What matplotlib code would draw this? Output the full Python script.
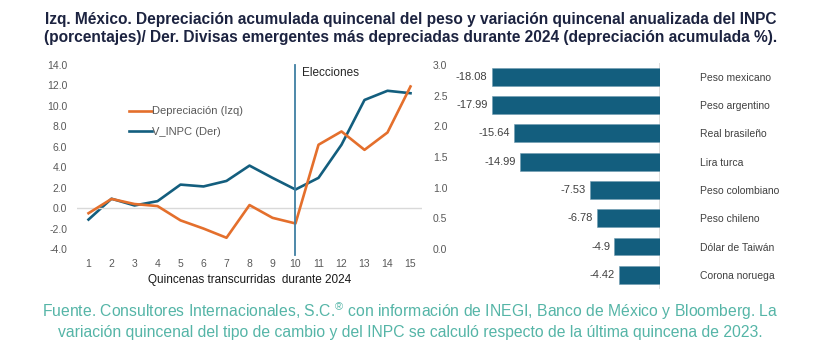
import matplotlib.pyplot as plt

# datos - panel izquierdo
quincenas = list(range(1, 16))
depreciacion = [-0.5, 0.9, 0.4, 0.2, -1.2, -2.0, -2.9, 0.3, -0.95, -1.5, 6.2, 7.5, 5.7, 7.4, 11.9]
v_inpc = [0.48, 0.82, 0.71, 0.78, 1.05, 1.02, 1.11, 1.36, 1.16, 0.97, 1.16, 1.70, 2.43, 2.58, 2.54]

# datos - panel derecho
divisas = ["Peso mexicano", "Peso argentino", "Real brasileño", "Lira turca",
           "Peso colombiano", "Peso chileno", "Dólar de Taiwán", "Corona noruega"]
dep_2024 = [-18.08, -17.99, -15.64, -14.99, -7.53, -6.78, -4.9, -4.42]

naranja = "#e46f2c"
azul = "#135e7e"
gris = "#595959"

plt.rcParams['font.family'] = ['Liberation Sans', 'DejaVu Sans']

fig = plt.figure(figsize=(8.21, 3.52), dpi=100)
fig.patch.set_facecolor("white")

# titulo
fig.text(0.5, 0.965, "Izq. México. Depreciación acumulada quincenal del peso y variación quincenal anualizada del INPC\n"
         "(porcentajes)/ Der. Divisas emergentes más depreciadas durante 2024 (depreciación acumulada %).",
         ha="center", va="top", fontsize=11.2, fontweight="bold", color="#1c2340",
         linespacing=1.2)

# panel izquierdo
ax = fig.add_axes([0.0938, 0.2926, 0.4202, 0.5227])
ax2 = ax.twinx()
ax.axhline(0, color="#d9d9d9", lw=1, zorder=1)
l1, = ax.plot(quincenas, depreciacion, color=naranja, lw=1.9, zorder=3, label="Depreciación (Izq)")
l2, = ax2.plot(quincenas, v_inpc, color=azul, lw=1.9, zorder=3, label="V_INPC (Der)")
ax.axvline(10, ymin=-0.035, ymax=1, color="#3f7fa3", lw=1.3, clip_on=False, zorder=4)
ax.text(10.3, 13.2, "Elecciones", fontsize=8.5, color="#262626", va="center")

ax.set_xlim(0.5, 15.5)
ax.set_ylim(-4, 14)
ax.set_yticks(range(-4, 15, 2))
ax.set_yticklabels([f"{v:.1f}" for v in range(-4, 15, 2)])
ax.set_xticks(quincenas)
ax2.set_ylim(0, 3)
ax2.set_yticks([0, 0.5, 1, 1.5, 2, 2.5, 3])
ax2.set_yticklabels([f"{v:.1f}" for v in [0, 0.5, 1, 1.5, 2, 2.5, 3]])
for a in (ax, ax2):
    for s in a.spines.values():
        s.set_visible(False)
    a.tick_params(length=0, labelsize=7.5, labelcolor=gris)
ax.tick_params(axis="y", pad=7)
ax.tick_params(axis="x", pad=7)
ax2.tick_params(axis="y", pad=8)
ax.set_xlabel("Quincenas transcurridas  durante 2024", fontsize=8.5, color="#1a1a1a", labelpad=4)
ax.set_zorder(ax2.get_zorder() + 1)
ax.patch.set_visible(False)

leg = ax.legend([l1, l2], ["Depreciación (Izq)", "V_INPC (Der)"], loc="upper left",
                bbox_to_anchor=(0.152, 0.775), frameon=False, fontsize=8,
                handlelength=2.0, handletextpad=0.0, labelspacing=0.95,
                borderpad=0, borderaxespad=0)
for t in leg.get_texts():
    t.set_color(gris)

# panel derecho
bx = fig.add_axes([0.5542, 0.179, 0.2497, 0.643])
pos = list(range(len(divisas)))
bx.barh(pos, dep_2024, height=0.63, color=azul, edgecolor="#6f9bb0", linewidth=0.4, zorder=2)
for i, v in zip(pos, dep_2024):
    bx.annotate(f"{v:g}", xy=(v, i), xytext=(-3, 0), textcoords="offset points",
                ha="right", va="center", fontsize=8, color="#404040", zorder=3)
bx.axvline(0, color="#d9d9d9", lw=1.2, zorder=1)
bx.set_xlim(-22, 0)
bx.set_ylim(7.5, -0.5)
bx.set_xticks([])
bx.yaxis.tick_right()
bx.set_yticks(pos)
bx.set_yticklabels(divisas)
bx.tick_params(axis="y", length=0, pad=29, labelsize=7.5, labelcolor="#404040")
for s in bx.spines.values():
    s.set_visible(False)

# fuente
fig.text(0.5, 0.09, "Fuente. Consultores Internacionales, S.C.$^{\\mathregular{®}}$ con información de INEGI, Banco de México y Bloomberg. La\n"
         "variación quincenal del tipo de cambio y del INPC se calculó respecto de la última quincena de 2023.",
         ha="center", va="center", fontsize=11.3, color="#55b5a7", linespacing=1.2)

fig.savefig("out.png", dpi=100, facecolor="white")
